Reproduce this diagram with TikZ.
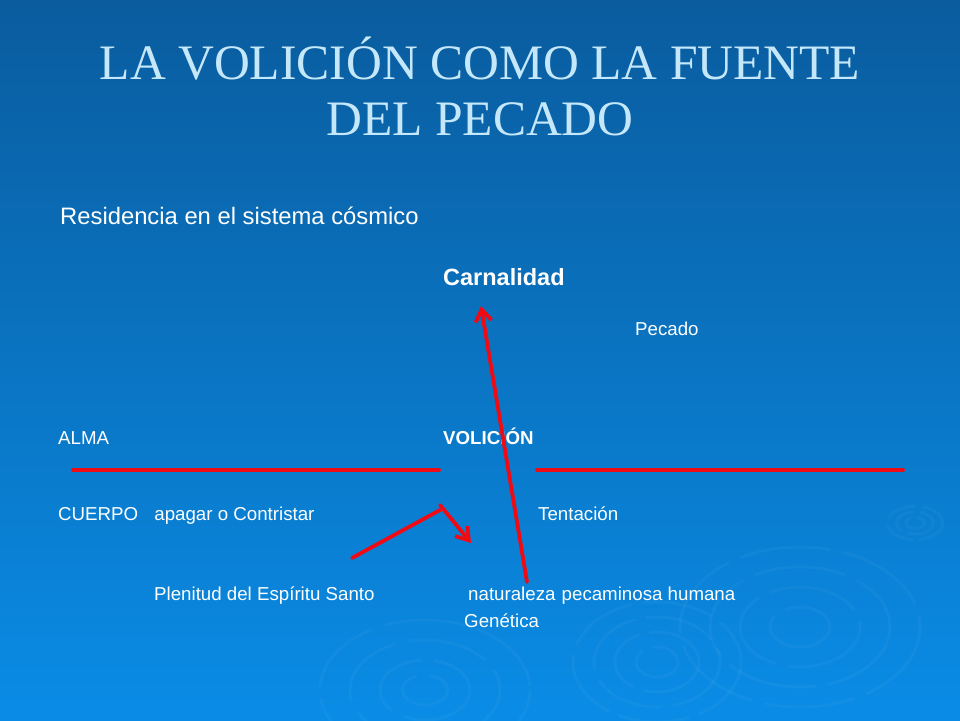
\documentclass[tikz,border=0pt]{standalone}
\usepackage{fontspec}
\setmainfont{Liberation Sans}
\newfontfamily\titlefont{Liberation Serif}
\usetikzlibrary{arrows.meta}
\definecolor{bgtop}{HTML}{0A5C9E}
\definecolor{bgmid}{HTML}{0068B4}
\definecolor{bgbot}{HTML}{0A8CE6}
\definecolor{titleblue}{HTML}{C4E8FA}
\definecolor{arrowred}{HTML}{F00A14}
\tikzset{
  txt/.style={anchor=base west,inner sep=0pt,text=white,font=\fontsize{18.7}{20}\selectfont},
  ttl/.style={anchor=base,inner sep=0pt,text=titleblue,font=\titlefont\fontsize{49.6}{52}\selectfont},
  redline/.style={draw=arrowred,line width=3.8pt},
  redarrow/.style={draw=arrowred,line width=3.8pt,-{Straight Barb[length=12pt,width=16pt,line width=3.8pt]}},
  ripple/.style={draw=white,draw opacity=0.035,line width=3pt}
}
\begin{document}
\begin{tikzpicture}[x=1pt,y=-1pt,line cap=round]
\shade[top color=bgtop,middle color=bgmid,bottom color=bgbot] (0,0) rectangle (960,720);
\useasboundingbox (0,0) rectangle (960,720);
% ripples
\foreach \r in {8,16,24}
  \draw[ripple,dash pattern=on 30pt off 8pt] (915,523) circle[x radius=\r*1.15,y radius=\r*0.7];
\foreach \r in {20,40,60,80}
  \draw[ripple,dash pattern=on 90pt off 14pt] (800,627) circle[x radius=\r*1.5,y radius=\r];
\foreach \r in {15,30,45,60}
  \draw[ripple,dash pattern=on 70pt off 12pt] (657,662) circle[x radius=\r*1.4,y radius=\r];
\foreach \r in {15,30,50,70}
  \draw[ripple,dash pattern=on 80pt off 14pt] (425,690) circle[x radius=\r*1.5,y radius=\r];
% title
\node[ttl] (t1) at (480,79) {LA VOLICIÓN COMO LA FUENTE};
\node[ttl] (t2) at (480,135) {DEL PECADO};
% texts
\node[txt,font=\fontsize{23.8}{25}\selectfont] (res) at (60,224) {Residencia en el sistema cósmico};
\node[txt,font=\bfseries\fontsize{23.5}{25}\selectfont] (carn) at (443,285) {Carnalidad};
\node[txt] (pec) at (635,335) {Pecado};
\node[txt] (alma) at (58,444) {ALMA};
\node[txt,font=\bfseries\fontsize{18.7}{20}\selectfont] (vol) at (443,444) {VOLICIÓN};
\node[txt] (cuer) at (58,520) {CUERPO\hspace{11pt} apagar o Contristar};
\node[txt] (tent) at (538,520) {Tentación};
\node[txt] (plen) at (154,600) {Plenitud del Espíritu Santo};
\node[txt] (nat) at (468,600) {naturaleza\hspace{1pt} pecaminosa humana};
\node[txt] (gen) at (464,627) {Genética};
% lines
\coordinate (l1) at (73,470);
\coordinate (l2) at (439,470);
\coordinate (l3) at (537,470);
\coordinate (l4) at (903,470);
\draw[redline] (l1) -- (l2);
\draw[redline] (l3) -- (l4);
% arrows
\coordinate (a0) at (352,558);
\coordinate (a1) at (440,510);
\coordinate (a2) at (440,505);
\coordinate (a3) at (471,543);
\coordinate (b0) at (527,582);
\coordinate (b1) at (481,306);
\draw[redline] (a0) -- (a1);
\draw[redarrow] (a2) -- (a3);
\draw[redarrow] (b0) -- (b1);
\end{tikzpicture}
\end{document}
